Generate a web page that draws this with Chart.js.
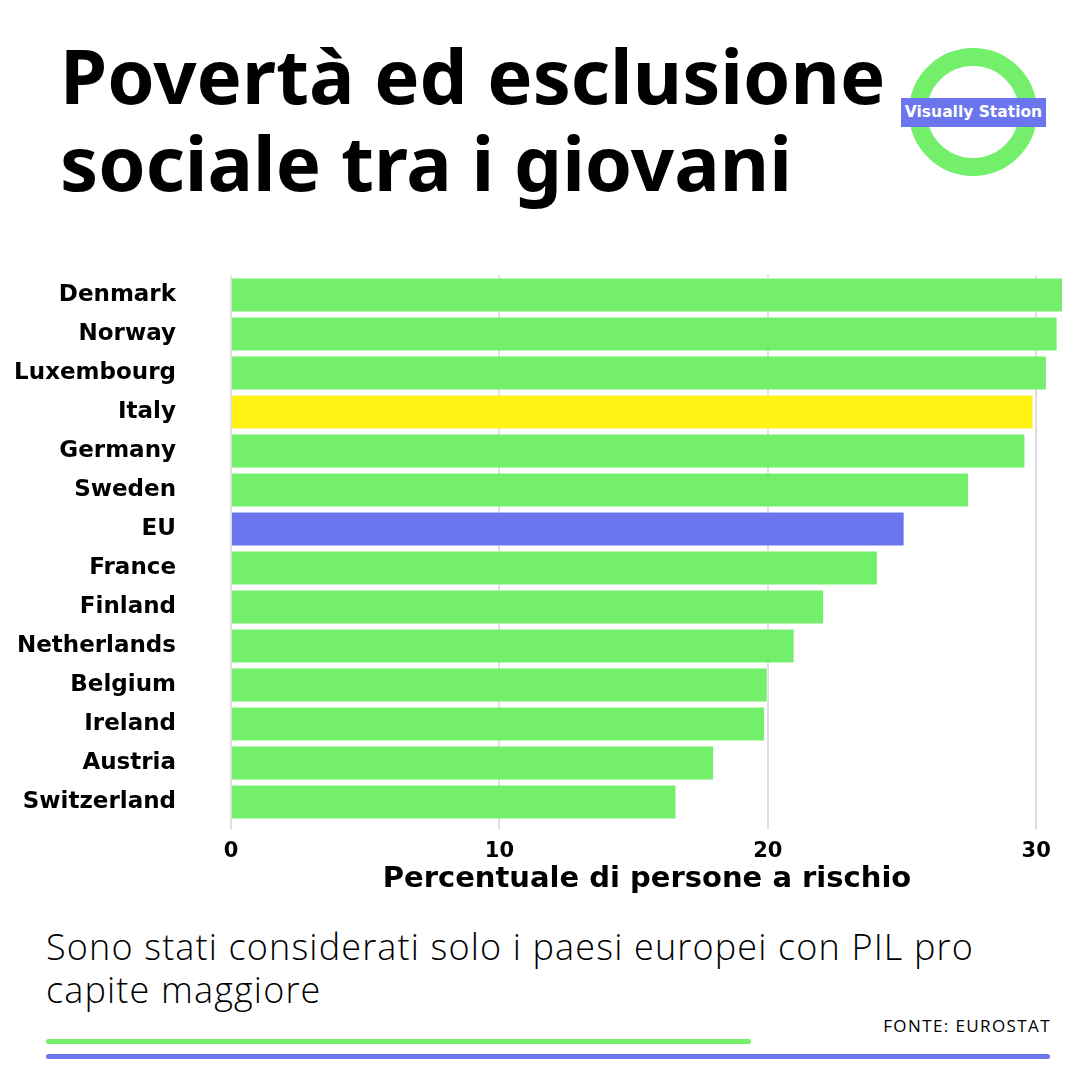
<!DOCTYPE html>
<html>
<head>
<meta charset="utf-8">
<script src="https://cdn.jsdelivr.net/npm/chart.js@4"></script>
<style>
  html, body { margin:0; padding:0; background:#fff; }
  #page { position:relative; width:1080px; height:1080px; overflow:hidden; background:#fff; }
  #title { position:absolute; left:60px; top:31px; font-family:"Noto Sans", sans-serif; font-weight:bold; font-size:76px; line-height:87px; color:#000; white-space:nowrap; }
  #ring { position:absolute; left:909px; top:48px; width:92px; height:92px; border:18px solid #74EF6B; border-radius:50%; }
  #badge { position:absolute; left:901px; top:98px; width:145px; height:29px; background:#6B76EE; color:#fff; font-family:"DejaVu Sans", sans-serif; font-weight:bold; font-size:15.5px; line-height:29px; text-align:center; white-space:nowrap; }
  #c { position:absolute; left:0; top:260px; }
  #note { position:absolute; left:46px; top:925px; width:1030px; font-family:"Open Sans", sans-serif; font-weight:300; font-size:36px; line-height:43px; letter-spacing:1.15px; color:#000; white-space:nowrap; }
  #src { position:absolute; right:29px; top:1014px; font-family:"Open Sans", sans-serif; font-size:17px; letter-spacing:1.4px; color:#000; }
  .bar { position:absolute; height:5px; border-radius:3px; }
</style>
</head>
<body>
<div id="page">
  <div id="title">Povertà ed esclusione<br>sociale tra i giovani</div>
  <div id="ring"></div>
  <div id="badge">Visually Station</div>
  <canvas id="c" width="1080" height="650"></canvas>
  <div id="note">Sono stati considerati solo i paesi europei con PIL pro<br>capite maggiore</div>
  <div id="src">FONTE: EUROSTAT</div>
  <div class="bar" style="left:46px; top:1039px; width:705px; background:#74EF6B;"></div>
  <div class="bar" style="left:46px; top:1054px; width:1004px; background:#6B76EE;"></div>
</div>
<script>
const countries = ["Denmark","Norway","Luxembourg","Italy","Germany","Sweden","EU","France","Finland","Netherlands","Belgium","Ireland","Austria","Switzerland"];
const values = [31.0, 30.8, 30.4, 29.9, 29.6, 27.5, 25.1, 24.1, 22.1, 21.0, 20.0, 19.9, 18.0, 16.6];
const xTicks = [0, 10, 20, 30];
const axisTitle = "Percentuale di persone a rischio";

const GREEN = "#74EF6B", YELLOW = "#FFF314", BLUE = "#6B76EE";
const colors = countries.map(c => c === "Italy" ? YELLOW : (c === "EU" ? BLUE : GREEN));

new Chart(document.getElementById("c"), {
  type: "bar",
  data: {
    labels: countries,
    datasets: [{
      data: values,
      backgroundColor: colors,
      borderColor: "rgba(255,255,255,0.55)",
      borderWidth: 1,
      barPercentage: 1.0,
      categoryPercentage: 0.9
    }]
  },
  options: {
    indexAxis: "y",
    responsive: false,
    animation: false,
    layout: { padding: { top: 15.5, right: 17, bottom: 13, left: 0 } },
    plugins: { legend: { display: false }, tooltip: { enabled: false } },
    scales: {
      x: {
        min: 0, max: 31,
        afterBuildTicks: s => { s.ticks = xTicks.map(v => ({ value: v })); },
        afterFit: s => { s.height = 75.5; },
        grid: { color: "#dedede", lineWidth: 2, tickLength: 8, drawTicks: true },
        border: { display: false },
        ticks: { padding: 9, color: "#000", font: { family: "DejaVu Sans", weight: "bold", size: 21 } },
        title: { display: true, text: axisTitle, color: "#000", padding: 0, font: { family: "DejaVu Sans", weight: "bold", size: 29 } }
      },
      y: {
        afterFit: s => { s.width = 231; },
        grid: { display: false, drawTicks: true, tickLength: 55 },
        border: { display: false },
        ticks: { padding: 0, color: "#000", font: { family: "DejaVu Sans", weight: "bold", size: 23 } }
      }
    }
  }
});
</script>
</body>
</html>
